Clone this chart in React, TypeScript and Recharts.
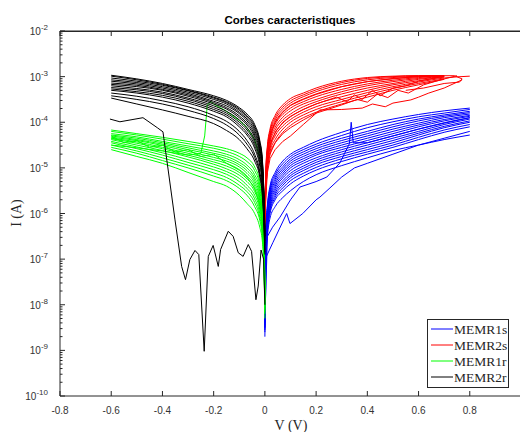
import { LineChart, Line, XAxis, YAxis } from "recharts";

// voltage grids (V)
const vNeg = [-0.6, -0.5, -0.4, -0.3, -0.2, -0.15, -0.1, -0.07, -0.04, -0.02, -0.01, -0.004, 0];
const vPos = [0, 0.004, 0.01, 0.02, 0.04, 0.07, 0.1, 0.15, 0.2, 0.3, 0.4, 0.5, 0.6, 0.7, 0.8];

// currents, stored as exponents: I = 10^x (A)
// MEMR1s (blue)
const memr1s_1 = [-8.0, -6.3, -5.8, -5.4, -5.1, -4.85, -4.7, -4.55, -4.42, -4.22, -4.05, -3.93, -3.83, -3.75, -3.69];
const memr1s_2 = [-8.1, -6.4, -5.9, -5.5, -5.2, -4.97, -4.8, -4.65, -4.53, -4.35, -4.2, -4.05, -3.93, -3.84, -3.76];
const memr1s_3 = [-8.2, -6.5, -6.0, -5.6, -5.3, -5.07, -4.9, -4.75, -4.63, -4.45, -4.3, -4.15, -4.02, -3.9, -3.82];
const memr1s_4 = [-8.3, -6.6, -6.1, -5.7, -5.4, -5.17, -5.0, -4.85, -4.72, -4.55, -4.4, -4.25, -4.1, -3.97, -3.87];
const memr1s_5 = [-8.4, -6.7, -6.2, -5.8, -5.5, -5.28, -5.12, -4.96, -4.83, -4.65, -4.5, -4.35, -4.2, -4.05, -3.93];
const memr1s_6 = [-8.5, -6.8, -6.3, -5.9, -5.6, -5.38, -5.22, -5.06, -4.93, -4.75, -4.6, -4.45, -4.28, -4.12, -4.0];
const memr1s_7 = [-8.6, -6.9, -6.4, -6.0, -5.7, -5.5, -5.35, -5.18, -5.05, -4.86, -4.7, -4.55, -4.38, -4.22, -4.1];
const memr1s_8 = [-8.7, -7.0, -6.5, -6.1, -5.85, -5.65, -5.5, -5.3, -5.15, -4.95, -4.78, -4.62, -4.5, -4.38, -4.28];
const memr1s_9 = [-8.05, -6.35, -5.85, -5.45, -5.15, -4.91, -4.75, -4.6, -4.48, -4.29, -4.12, -3.99, -3.88, -3.8, -3.72];
const memr1s_10 = [-8.15, -6.45, -5.95, -5.55, -5.25, -5.02, -4.85, -4.7, -4.58, -4.4, -4.25, -4.1, -3.97, -3.87, -3.79];
const memr1s_11 = [-8.25, -6.55, -6.05, -5.65, -5.35, -5.12, -4.95, -4.8, -4.68, -4.5, -4.35, -4.2, -4.06, -3.94, -3.85];
const memr1s_12 = [-8.35, -6.65, -6.15, -5.75, -5.45, -5.22, -5.06, -4.9, -4.78, -4.6, -4.45, -4.3, -4.15, -4.01, -3.9];
const memr1s_13 = [-8.45, -6.75, -6.25, -5.85, -5.55, -5.33, -5.17, -5.01, -4.88, -4.7, -4.55, -4.4, -4.24, -4.09, -3.97];
const memr1s_14 = [-8.55, -6.85, -6.35, -5.95, -5.65, -5.44, -5.28, -5.12, -4.99, -4.8, -4.65, -4.5, -4.33, -4.17, -4.05];
const memr1sWildV = [0, 0.006, 0.031, 0.085, 0.098, 0.148, 0.2, 0.215, 0.254, 0.3, 0.35, 0.4, 0.5, 0.6, 0.7, 0.8];
const memr1sWild = [-8.5, -6.94, -6.64, -6.0, -6.22, -6.0, -5.7, -5.64, -5.44, -5.2, -5.0, -4.9, -4.7, -4.5, -4.35, -4.2];
const memr1sSpikeV = [0, 0.01, 0.03, 0.059, 0.1, 0.137, 0.2, 0.242, 0.293, 0.33, 0.337, 0.345, 0.4, 0.5, 0.6, 0.7, 0.8];
const memr1sSpike = [-8.3, -6.5, -6.3, -6.08, -5.7, -5.42, -5.3, -5.2, -4.89, -4.47, -4.0, -4.45, -4.45, -4.3, -4.15, -4.02, -3.9];

// MEMR2s (red)
const memr2s_1 = [-5.9, -5.0, -4.5, -4.15, -3.85, -3.62, -3.48, -3.36, -3.25, -3.1, -3.02, -2.99, -2.98, -2.98];
const memr2s_2 = [-6.0, -5.1, -4.6, -4.25, -3.95, -3.72, -3.58, -3.44, -3.33, -3.17, -3.07, -3.02, -2.99, -2.98];
const memr2s_3 = [-6.0, -5.2, -4.7, -4.35, -4.05, -3.83, -3.69, -3.55, -3.44, -3.28, -3.16, -3.08, -3.02, -2.99];
const memr2s_4 = [-6.1, -5.3, -4.8, -4.45, -4.17, -3.95, -3.82, -3.66, -3.55, -3.38, -3.25, -3.15, -3.06, -3.0];
const memr2s_5 = [-6.1, -5.4, -4.9, -4.58, -4.3, -4.08, -3.94, -3.78, -3.66, -3.5, -3.35, -3.22, -3.12, -3.03, -2.99];
const memr2s_6 = [-6.2, -5.5, -5.0, -4.7, -4.45, -4.22, -4.07, -3.9, -3.78, -3.6, -3.45, -3.3, -3.18, -3.06];
const memr2s_7 = [-5.95, -5.05, -4.55, -4.2, -3.9, -3.67, -3.53, -3.4, -3.29, -3.13, -3.04, -3.0, -2.98, -2.98];
const memr2s_8 = [-6.0, -5.15, -4.65, -4.3, -4.0, -3.77, -3.63, -3.49, -3.38, -3.22, -3.11, -3.05, -3.0, -2.98];
const memr2s_9 = [-6.05, -5.25, -4.75, -4.4, -4.11, -3.89, -3.75, -3.6, -3.5, -3.33, -3.2, -3.11, -3.04, -3.0];
const memr2s_10 = [-6.1, -5.35, -4.85, -4.52, -4.24, -4.02, -3.88, -3.72, -3.6, -3.44, -3.3, -3.18, -3.09, -3.01];
const memr2s_11 = [-6.15, -5.45, -4.95, -4.64, -4.38, -4.15, -4.0, -3.84, -3.72, -3.55, -3.4, -3.26, -3.15, -3.05];
const memr2sWavyV = [0, 0.004, 0.01, 0.02, 0.04, 0.07, 0.1, 0.15, 0.215, 0.3, 0.38, 0.42, 0.47, 0.5, 0.57, 0.6, 0.64, 0.7, 0.77];
const memr2sWavy = [-6.3, -5.6, -5.1, -4.8, -4.6, -4.42, -4.3, -4.05, -3.73, -3.72, -3.69, -3.6, -3.66, -3.58, -3.51, -3.45, -3.36, -3.25, -3.07];
const memr2sLoopV = [0, 0.004, 0.01, 0.02, 0.04, 0.07, 0.1, 0.15, 0.2, 0.3, 0.4, 0.5, 0.6, 0.7, 0.74, 0.77, 0.76, 0.7, 0.62, 0.55];
const memr2sLoop = [-6.0, -5.15, -4.65, -4.3, -4.0, -3.78, -3.63, -3.5, -3.39, -3.22, -3.11, -3.04, -3.0, -2.98, -2.98, -3.05, -3.12, -3.15, -3.25, -3.3];
const memr2sZigV = [0, 0.004, 0.01, 0.02, 0.04, 0.07, 0.1, 0.15, 0.2, 0.28, 0.32, 0.35, 0.38, 0.42, 0.45, 0.5, 0.55, 0.6, 0.7];
const memr2sZig = [-6.1, -5.3, -4.85, -4.5, -4.22, -4.0, -3.87, -3.72, -3.6, -3.45, -3.55, -3.4, -3.5, -3.3, -3.42, -3.25, -3.2, -3.1, -2.99];
const memr2sZig2V = [0, 0.004, 0.01, 0.02, 0.04, 0.07, 0.1, 0.15, 0.2, 0.3, 0.36, 0.4, 0.44, 0.48, 0.52, 0.56, 0.62, 0.68, 0.75];
const memr2sZig2 = [-6.2, -5.45, -5.0, -4.7, -4.45, -4.25, -4.12, -3.95, -3.8, -3.62, -3.5, -3.56, -3.38, -3.46, -3.3, -3.36, -3.18, -3.08, -2.98];

// MEMR1r (green)
const memr1r_1 = [-4.17, -4.25, -4.33, -4.42, -4.52, -4.58, -4.68, -4.78, -4.98, -5.3, -5.7, -6.3, -7.6];
const memr1r_2 = [-4.25, -4.32, -4.42, -4.52, -4.63, -4.7, -4.82, -4.94, -5.15, -5.45, -5.85, -6.4, -7.7];
const memr1r_3 = [-4.3, -4.38, -4.48, -4.6, -4.72, -4.8, -4.93, -5.06, -5.28, -5.6, -6.0, -6.5, -7.8];
const memr1r_4 = [-4.35, -4.43, -4.55, -4.68, -4.82, -4.9, -5.04, -5.18, -5.4, -5.72, -6.1, -6.6, -7.9];
const memr1r_5 = [-4.38, -4.5, -4.62, -4.76, -4.92, -5.02, -5.16, -5.3, -5.52, -5.85, -6.2, -6.7, -8.0];
const memr1r_6 = [-4.45, -4.58, -4.72, -4.88, -5.04, -5.14, -5.3, -5.45, -5.68, -6.0, -6.35, -6.8, -8.1];
const memr1r_7 = [-4.55, -4.68, -4.84, -5.0, -5.18, -5.28, -5.45, -5.6, -5.85, -6.15, -6.5, -7.0, -8.2];
const memr1r_8 = [-4.6, -4.75, -4.9, -5.1, -5.3, -5.4, -5.6, -5.78, -6.0, -6.3, -6.6, -7.1, -8.3];
const memr1r_9 = [-4.2, -4.28, -4.37, -4.47, -4.57, -4.64, -4.75, -4.86, -5.06, -5.38, -5.78, -6.35, -7.65];
const memr1r_10 = [-4.28, -4.35, -4.45, -4.56, -4.68, -4.75, -4.88, -5.0, -5.22, -5.52, -5.92, -6.45, -7.75];
const memr1r_11 = [-4.33, -4.4, -4.51, -4.64, -4.77, -4.85, -4.98, -5.12, -5.34, -5.66, -6.05, -6.55, -7.85];
const memr1r_12 = [-4.36, -4.46, -4.58, -4.72, -4.87, -4.96, -5.1, -5.24, -5.46, -5.78, -6.15, -6.65, -7.95];
const memr1r_13 = [-4.42, -4.54, -4.67, -4.82, -4.98, -5.08, -5.23, -5.38, -5.6, -5.92, -6.28, -6.75, -8.05];
const memr1r_14 = [-4.5, -4.63, -4.78, -4.94, -5.11, -5.21, -5.38, -5.52, -5.76, -6.08, -6.42, -6.9, -8.15];
const memr1rJumpV = [-0.6, -0.5, -0.4, -0.3, -0.25, -0.235, -0.225, -0.21, -0.2, -0.15, -0.1, -0.07, -0.04, -0.02, -0.01, 0];
const memr1rJump = [-4.5, -4.56, -4.63, -4.72, -4.68, -4.3, -3.62, -3.55, -3.6, -3.76, -3.96, -4.12, -4.38, -4.78, -5.2, -7.6];
const memr1rWavyV = [-0.6, -0.55, -0.5, -0.45, -0.4, -0.35, -0.3, -0.25, -0.2, -0.15, -0.1, -0.07, -0.04, -0.02, -0.01, 0];
const memr1rWavy = [-4.3, -4.45, -4.4, -4.55, -4.5, -4.65, -4.6, -4.75, -4.7, -4.9, -5.05, -5.2, -5.45, -5.8, -6.2, -7.9];

// MEMR2r (black)
const memr2r_1 = [-2.97, -3.05, -3.15, -3.28, -3.42, -3.52, -3.68, -3.82, -4.05, -4.4, -4.8, -5.5, -6.3];
const memr2r_2 = [-3.03, -3.1, -3.19, -3.31, -3.47, -3.57, -3.74, -3.89, -4.13, -4.48, -4.88, -5.6, -6.4];
const memr2r_3 = [-3.1, -3.16, -3.25, -3.37, -3.54, -3.64, -3.81, -3.97, -4.23, -4.58, -4.98, -5.7, -6.5];
const memr2r_4 = [-3.17, -3.22, -3.3, -3.43, -3.6, -3.71, -3.9, -4.06, -4.33, -4.68, -5.08, -5.8, -6.5];
const memr2r_5 = [-3.24, -3.29, -3.37, -3.5, -3.68, -3.8, -4.0, -4.17, -4.45, -4.82, -5.22, -5.9, -6.6];
const memr2r_6 = [-3.3, -3.36, -3.45, -3.58, -3.76, -3.88, -4.1, -4.28, -4.57, -4.96, -5.36, -6.0, -6.7];
const memr2r_7 = [-3.36, -3.43, -3.53, -3.66, -3.85, -3.98, -4.2, -4.4, -4.7, -5.08, -5.48, -6.1, -6.8];
const memr2r_8 = [-3.47, -3.6, -3.73, -3.87, -4.03, -4.18, -4.38, -4.58, -4.85, -5.2, -5.6, -6.2, -6.9];
const memr2r_9 = [-2.99, -3.07, -3.17, -3.3, -3.45, -3.55, -3.71, -3.86, -4.09, -4.44, -4.84, -5.55, -6.35];
const memr2r_10 = [-3.07, -3.13, -3.22, -3.34, -3.5, -3.6, -3.78, -3.93, -4.18, -4.53, -4.93, -5.65, -6.45];
const memr2r_11 = [-3.14, -3.19, -3.28, -3.4, -3.57, -3.68, -3.86, -4.02, -4.28, -4.63, -5.03, -5.75, -6.5];
const memr2r_12 = [-3.2, -3.26, -3.34, -3.47, -3.64, -3.76, -3.95, -4.12, -4.39, -4.75, -5.15, -5.85, -6.55];
const memr2r_13 = [-3.27, -3.33, -3.41, -3.54, -3.72, -3.84, -4.05, -4.23, -4.51, -4.89, -5.29, -5.95, -6.65];
const memr2r_14 = [-3.42, -3.5, -3.6, -3.74, -3.92, -4.06, -4.28, -4.48, -4.77, -5.14, -5.54, -6.15, -6.85];
const memr2rWildV = [-0.605, -0.566, -0.476, -0.42, -0.398, -0.351, -0.325, -0.31, -0.293, -0.273, -0.258, -0.237, -0.221, -0.202, -0.182, -0.173, -0.143, -0.124, -0.104, -0.085, -0.065, -0.052, -0.035, -0.026, -0.015, -0.005, 0];
const memr2rWild = [-3.93, -3.99, -3.9, -4.12, -4.21, -6.14, -7.16, -7.45, -7.01, -6.81, -6.9, -9.02, -6.94, -6.7, -7.16, -6.79, -6.39, -6.5, -6.86, -6.94, -6.68, -6.83, -7.89, -7.59, -6.8, -7.0, -8.0];

const xTicks = [-0.8, -0.6, -0.4, -0.2, 0, 0.2, 0.4, 0.6, 0.8];
const yDecades = [-10, -9, -8, -7, -6, -5, -4, -3, -2];

const pts = (vs: number[], logs: number[]) => logs.map((l, k) => ({ v: vs[k], i: 10 ** l }));

type Curve = { data: { v: number; i: number }[]; color: string; linear?: boolean };
const BLUE = "#0000ff";
const RED = "#ff0000";
const GREEN = "#00ff00";
const BLACK = "#000000";

const blueSet = [memr1s_1, memr1s_2, memr1s_3, memr1s_4, memr1s_5, memr1s_6, memr1s_7, memr1s_8, memr1s_9, memr1s_10, memr1s_11, memr1s_12, memr1s_13, memr1s_14];
const redSet = [memr2s_1, memr2s_2, memr2s_3, memr2s_4, memr2s_5, memr2s_6, memr2s_7, memr2s_8, memr2s_9, memr2s_10, memr2s_11];
const greenSet = [memr1r_1, memr1r_2, memr1r_3, memr1r_4, memr1r_5, memr1r_6, memr1r_7, memr1r_8, memr1r_9, memr1r_10, memr1r_11, memr1r_12, memr1r_13, memr1r_14];
const blackSet = [memr2r_1, memr2r_2, memr2r_3, memr2r_4, memr2r_5, memr2r_6, memr2r_7, memr2r_8, memr2r_9, memr2r_10, memr2r_11, memr2r_12, memr2r_13, memr2r_14];

const curves: Curve[] = [
  ...blueSet.map((c) => ({ data: pts(vPos, c), color: BLUE })),
  { data: pts(memr1sWildV, memr1sWild), color: BLUE, linear: true },
  { data: pts(memr1sSpikeV, memr1sSpike), color: BLUE, linear: true },
  ...redSet.map((c) => ({ data: pts(vPos, c), color: RED })),
  { data: pts(memr2sWavyV, memr2sWavy), color: RED, linear: true },
  { data: pts(memr2sLoopV, memr2sLoop), color: RED, linear: true },
  { data: pts(memr2sZigV, memr2sZig), color: RED, linear: true },
  { data: pts(memr2sZig2V, memr2sZig2), color: RED, linear: true },
  ...greenSet.map((c) => ({ data: pts(vNeg, c), color: GREEN })),
  { data: pts(memr1rJumpV, memr1rJump), color: GREEN, linear: true },
  { data: pts(memr1rWavyV, memr1rWavy), color: GREEN, linear: true },
  ...blackSet.map((c) => ({ data: pts(vNeg, c), color: BLACK })),
  { data: pts(memr2rWildV, memr2rWild), color: BLACK, linear: true },
];

const yTicks: number[] = [];
yDecades.forEach((d) => {
  yTicks.push(10 ** d);
  if (d < -2) for (let m = 2; m < 10; m++) yTicks.push(m * 10 ** d);
});

const legendItems = [
  { name: "MEMR1s", color: BLUE },
  { name: "MEMR2s", color: RED },
  { name: "MEMR1r", color: GREEN },
  { name: "MEMR2r", color: BLACK },
];

const AXIS = "#262626";
const SANS = "'Liberation Sans', Arial, sans-serif";
const SERIF = "'Liberation Serif', 'Times New Roman', serif";

const isDecade = (v: number) => Math.abs(Math.log10(v) - Math.round(Math.log10(v))) < 1e-6;

const XTick = (props: any) => {
  const { x, y, payload } = props;
  const r = Math.round(payload.value * 10) / 10;
  return (
    <g>
      <line x1={x} x2={x} y1={y} y2={y - 5} stroke={AXIS} />
      <text x={x} y={y + 18} textAnchor="middle" fontFamily={SANS} fontSize={10} fill="#333">
        {r === 0 ? "0" : String(r)}
      </text>
    </g>
  );
};

const XTopTick = (props: any) => {
  const { x, y } = props;
  return <line x1={x} x2={x} y1={y} y2={y + 5} stroke={AXIS} />;
};

const YTick = (props: any) => {
  const { x, y, payload } = props;
  const dec = isDecade(payload.value);
  return (
    <g>
      <line x1={x} x2={x + (dec ? 5 : 2.5)} y1={y} y2={y} stroke={AXIS} />
      {dec && (
        <text x={x - 12} y={y + 4} textAnchor="end" fontFamily={SANS} fontSize={10} fill="#333">
          10
          <tspan dy={-5} fontSize={8}>
            {String(Math.round(Math.log10(payload.value)))}
          </tspan>
        </text>
      )}
    </g>
  );
};

const YRightTick = (props: any) => {
  const { x, y, payload } = props;
  const dec = isDecade(payload.value);
  return <line x1={x} x2={x - (dec ? 5 : 2.5)} y1={y} y2={y} stroke={AXIS} />;
};

const App = () => {
  return (
    <div style={{ position: "absolute", left: 0, top: 0, width: 520, height: 432, background: "#fff", overflow: "hidden" }}>
      <LineChart width={521} height={432} margin={{ top: 30, right: 0, bottom: 6, left: 0 }}>
        <XAxis
          xAxisId="b"
          dataKey="v"
          type="number"
          domain={[-0.8, 1]}
          ticks={xTicks}
          interval={0}
          height={30}
          tickSize={0}
          tickMargin={0}
          tick={<XTick />}
          stroke={AXIS}
          allowDataOverflow
        />
        <XAxis
          xAxisId="t"
          orientation="top"
          dataKey="v"
          type="number"
          domain={[-0.8, 1]}
          ticks={xTicks}
          interval={0}
          height={1}
          tickSize={0}
          tickMargin={0}
          tick={<XTopTick />}
          stroke={AXIS}
          allowDataOverflow
        />
        <YAxis
          yAxisId="l"
          type="number"
          scale="log"
          domain={[1e-10, 1e-2]}
          ticks={yTicks}
          interval={0}
          width={60}
          tickSize={0}
          tickMargin={0}
          tick={<YTick />}
          stroke={AXIS}
          allowDataOverflow
        />
        <YAxis
          yAxisId="r"
          orientation="right"
          type="number"
          scale="log"
          domain={[1e-10, 1e-2]}
          ticks={yTicks}
          interval={0}
          width={0}
          tickSize={0}
          tickMargin={0}
          tick={<YRightTick />}
          stroke={AXIS}
          allowDataOverflow
        />
        {curves.map((c, k) => (
          <Line
            key={k}
            data={c.data}
            dataKey="i"
            xAxisId="b"
            yAxisId="l"
            type={c.linear ? "linear" : "monotone"}
            stroke={c.color}
            strokeWidth={1}
            dot={false}
            activeDot={false}
            legendType="none"
            isAnimationActive={false}
          />
        ))}
      </LineChart>
      <svg width={520} height={432} style={{ position: "absolute", left: 0, top: 0, pointerEvents: "none" }}>
        <line x1={60} x2={520} y1={31.5} y2={31.5} stroke={AXIS} />
        <text x={290} y={24} textAnchor="middle" fontFamily={SANS} fontWeight="bold" fontSize={11.5} fill="#000">
          Corbes caracteristiques
        </text>
        <text x={291} y={430} textAnchor="middle" fontFamily={SERIF} fontSize={14} fill="#262626">
          V (V)
        </text>
        <text x={21} y={213} textAnchor="middle" fontFamily={SERIF} fontSize={14} fill="#262626" transform="rotate(-90 21 213)">
          I (A)
        </text>
        <rect x={427.5} y={319.5} width={81} height={68} fill="#fff" stroke={AXIS} />
        {legendItems.map((it, k) => (
          <g key={it.name}>
            <line x1={431} x2={453} y1={329 + k * 16} y2={329 + k * 16} stroke={it.color} />
            <text x={454} y={334 + k * 16} fontFamily={SERIF} fontSize={13.5} fill="#262626">
              {it.name}
            </text>
          </g>
        ))}
      </svg>
    </div>
  );
};

export default App;
